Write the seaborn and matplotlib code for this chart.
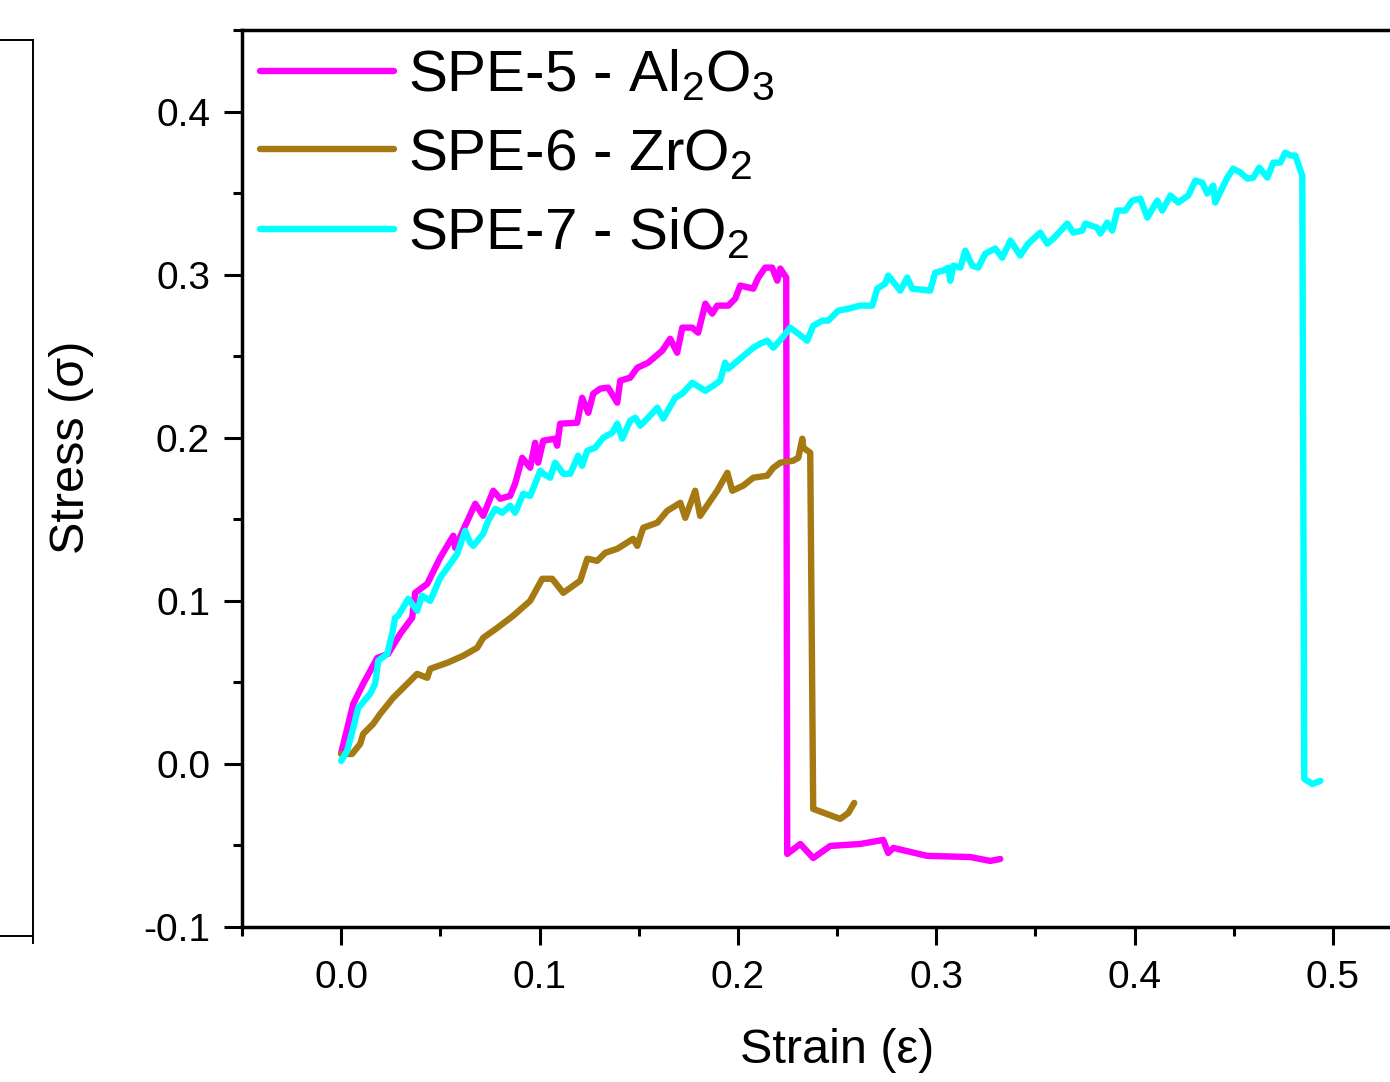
import numpy as np
import pandas as pd
import matplotlib
matplotlib.use('Agg')
import matplotlib.pyplot as plt
from matplotlib.ticker import MultipleLocator, FormatStrFormatter
import seaborn as sns

sns.set_style('ticks')
plt.rcParams['font.family'] = ['Liberation Sans', 'DejaVu Sans']
plt.rcParams['mathtext.default'] = 'regular'
plt.rcParams['axes.unicode_minus'] = False
plt.rcParams['text.color'] = 'black'
plt.rcParams['axes.labelcolor'] = 'black'
plt.rcParams['xtick.color'] = 'black'
plt.rcParams['ytick.color'] = 'black'

# SPE-5 - Al2O3
strain_al = [0.000, 0.0061, 0.0111, 0.0182, 0.0237, 0.0298, 0.0358, 0.0373, 0.0434, 0.0499,
             0.0565, 0.0575, 0.0625, 0.0676, 0.0716, 0.0767, 0.0802, 0.0852, 0.0877, 0.0913,
             0.0953, 0.0978, 0.0993, 0.1019, 0.1079, 0.1089, 0.1104, 0.1190, 0.1215, 0.1246,
             0.1271, 0.1306, 0.1346, 0.1392, 0.1407, 0.1457, 0.1493, 0.1548, 0.1619, 0.1659,
             0.1694, 0.1720, 0.1770, 0.1800, 0.1836, 0.1871, 0.1896, 0.1952, 0.1987, 0.2012,
             0.2078, 0.2103, 0.2138, 0.2173, 0.2199, 0.2214, 0.2244, 0.2249, 0.2315, 0.2380,
             0.2466, 0.2617, 0.2733, 0.2758, 0.2784, 0.2955, 0.3172, 0.3273, 0.3323]
stress_al = [0.0067, 0.0368, 0.0491, 0.0650, 0.0675, 0.0798, 0.0896, 0.1049, 0.1104, 0.1264,
             0.1399, 0.1325, 0.1460, 0.1595, 0.1521, 0.1675, 0.1626, 0.1644, 0.1718, 0.1877,
             0.1816, 0.1969, 0.1847, 0.1982, 0.1994, 0.1951, 0.2086, 0.2092, 0.2245, 0.2153,
             0.2270, 0.2301, 0.2307, 0.2215, 0.2350, 0.2368, 0.2429, 0.2460, 0.2534, 0.2607,
             0.2521, 0.2675, 0.2675, 0.2644, 0.2822, 0.2761, 0.2810, 0.2810, 0.2853, 0.2933,
             0.2914, 0.2982, 0.3043, 0.3043, 0.2963, 0.3037, 0.2982, -0.0552, -0.0491, -0.0577,
             -0.0503, -0.0491, -0.0466, -0.0546, -0.0515, -0.0564, -0.0571, -0.0595, -0.0583]

# SPE-6 - ZrO2
strain_zr = [0.000, 0.0055, 0.0096, 0.0111, 0.0161, 0.0197, 0.0262, 0.0348, 0.0383, 0.0434,
             0.0449, 0.0535, 0.0615, 0.0686, 0.0716, 0.0787, 0.0867, 0.0953, 0.1014, 0.1064,
             0.1120, 0.1205, 0.1241, 0.1291, 0.1331, 0.1392, 0.1472, 0.1493, 0.1523, 0.1594,
             0.1644, 0.1710, 0.1735, 0.1785, 0.1810, 0.1861, 0.1896, 0.1947, 0.1972, 0.2027,
             0.2078, 0.2148, 0.2179, 0.2214, 0.2279, 0.2305, 0.2325, 0.2330, 0.2365, 0.2380,
             0.2516, 0.2557, 0.2587]
stress_zr = [0.0061, 0.0061, 0.0123, 0.0184, 0.0245, 0.0307, 0.0405, 0.0509, 0.0552, 0.0528,
             0.0583, 0.0620, 0.0663, 0.0712, 0.0773, 0.0834, 0.0908, 0.1000, 0.1135, 0.1135,
             0.1049, 0.1123, 0.1258, 0.1245, 0.1294, 0.1319, 0.1380, 0.1337, 0.1448, 0.1479,
             0.1552, 0.1601, 0.1509, 0.1675, 0.1521, 0.1613, 0.1675, 0.1785, 0.1675, 0.1706,
             0.1755, 0.1767, 0.1816, 0.1847, 0.1859, 0.1877, 0.1994, 0.1939, 0.1908, -0.0276,
             -0.0337, -0.0301, -0.0239]

# SPE-7 - SiO2
strain_si = [0.0000, 0.0030, 0.0061, 0.0086, 0.0146, 0.0171, 0.0187, 0.0232, 0.0257, 0.0272,
             0.0287, 0.0338, 0.0383, 0.0408, 0.0449, 0.0499, 0.0550, 0.0585, 0.0625, 0.0651,
             0.0666, 0.0716, 0.0741, 0.0777, 0.0812, 0.0852, 0.0877, 0.0918, 0.0953, 0.1004,
             0.1019, 0.1054, 0.1079, 0.1120, 0.1155, 0.1195, 0.1215, 0.1241, 0.1281, 0.1321,
             0.1367, 0.1392, 0.1417, 0.1457, 0.1483, 0.1508, 0.1548, 0.1594, 0.1624, 0.1684,
             0.1720, 0.1770, 0.1836, 0.1876, 0.1911, 0.1936, 0.1952, 0.2012, 0.2078, 0.2113,
             0.2148, 0.2179, 0.2224, 0.2264, 0.2305, 0.2350, 0.2380, 0.2426, 0.2456, 0.2506,
             0.2557, 0.2617, 0.2678, 0.2703, 0.2743, 0.2758, 0.2819, 0.2854, 0.2879, 0.2970,
             0.2995, 0.3036, 0.3061, 0.3071, 0.3086, 0.3122, 0.3147, 0.3182, 0.3212, 0.3248,
             0.3298, 0.3333, 0.3374, 0.3424, 0.3464, 0.3525, 0.3560, 0.3591, 0.3661, 0.3691,
             0.3737, 0.3752, 0.3812, 0.3828, 0.3863, 0.3888, 0.3913, 0.3954, 0.3989, 0.4029,
             0.4065, 0.4115, 0.4140, 0.4181, 0.4221, 0.4271, 0.4307, 0.4342, 0.4367, 0.4397,
             0.4407, 0.4468, 0.4498, 0.4534, 0.4569, 0.4599, 0.4629, 0.4670, 0.4700, 0.4735,
             0.4760, 0.4786, 0.4811, 0.4846, 0.4856, 0.4897, 0.4937]
stress_si = [0.0018, 0.0080, 0.0221, 0.0344, 0.0429, 0.0491, 0.0632, 0.0675, 0.0798, 0.0896,
             0.0908, 0.1012, 0.0939, 0.1031, 0.1000, 0.1141, 0.1227, 0.1288, 0.1429, 0.1356,
             0.1337, 0.1411, 0.1491, 0.1564, 0.1540, 0.1583, 0.1540, 0.1656, 0.1644, 0.1798,
             0.1779, 0.1755, 0.1847, 0.1779, 0.1779, 0.1890, 0.1828, 0.1920, 0.1939, 0.2000,
             0.2031, 0.2086, 0.1994, 0.2104, 0.2123, 0.2074, 0.2123, 0.2184, 0.2117, 0.2245,
             0.2270, 0.2337, 0.2288, 0.2319, 0.2350, 0.2460, 0.2423, 0.2485, 0.2552, 0.2577,
             0.2595, 0.2552, 0.2613, 0.2675, 0.2638, 0.2595, 0.2687, 0.2718, 0.2718, 0.2779,
             0.2791, 0.2810, 0.2810, 0.2914, 0.2945, 0.2994, 0.2902, 0.2982, 0.2914, 0.2902,
             0.3012, 0.3025, 0.3043, 0.2963, 0.3055, 0.3043, 0.3147, 0.3055, 0.3043, 0.3129,
             0.3160, 0.3104, 0.3209, 0.3117, 0.3190, 0.3258, 0.3190, 0.3221, 0.3313, 0.3258,
             0.3270, 0.3313, 0.3288, 0.3252, 0.3319, 0.3270, 0.3393, 0.3393, 0.3454, 0.3466,
             0.3350, 0.3454, 0.3393, 0.3485, 0.3442, 0.3485, 0.3577, 0.3564, 0.3497, 0.3546,
             0.3442, 0.3595, 0.3650, 0.3626, 0.3589, 0.3595, 0.3656, 0.3595, 0.3687, 0.3687,
             0.3748, 0.3730, 0.3730, 0.3607, -0.0092, -0.0123, -0.0104]

labels = ['SPE-5 - Al$_2$O$_3$', 'SPE-6 - ZrO$_2$', 'SPE-7 - SiO$_2$']
colors = ['#FF00FF', '#A67A12', '#00FFFF']

fig = plt.figure(figsize=(13.9, 10.82), dpi=100)

# cropped neighbour panel on the far left
ax0 = fig.add_axes([-0.5, 0.135, 0.5237, 0.828])
ax0.set_xlim(0, 1)
ax0.set_xticks([1])
ax0.set_xticklabels([])
ax0.set_yticks([])
for s in ax0.spines.values():
    s.set_linewidth(1.4)
    s.set_color('black')
ax0.tick_params(axis='x', direction='out', length=6, width=1.4)

ax = fig.add_axes([242 / 1390, 155 / 1082, 1190 / 1390, 897 / 1082])

series = [(strain_al, stress_al), (strain_zr, stress_zr), (strain_si, stress_si)]
for (sx, sy), lab, col in zip(series, labels, colors):
    df = pd.DataFrame({'strain': sx, 'stress': sy})
    sns.lineplot(data=df, x='strain', y='stress', sort=False, estimator=None,
                 color=col, linewidth=4.6, label=lab, ax=ax)

ax.set_xlim(-0.05, 0.55)
ax.set_ylim(-0.1, 0.45)
ax.xaxis.set_major_locator(MultipleLocator(0.1))
ax.xaxis.set_minor_locator(MultipleLocator(0.05))
ax.yaxis.set_major_locator(MultipleLocator(0.1))
ax.yaxis.set_minor_locator(MultipleLocator(0.05))
ax.xaxis.set_major_formatter(FormatStrFormatter('%.1f'))
ax.yaxis.set_major_formatter(FormatStrFormatter('%.1f'))
ax.tick_params(which='major', direction='out', length=13, width=2.2, labelsize=28, pad=10)
ax.tick_params(which='minor', direction='out', length=6.5, width=2.2)
ax.tick_params(axis='x', which='major', pad=11)
for s in ax.spines.values():
    s.set_linewidth(2.5)
    s.set_color('black')

ax.set_xlabel('Strain (ε)', fontsize=35)
ax.set_ylabel('Stress (σ)', fontsize=35)
ax.xaxis.set_label_coords(0.5, -0.113)
ax.yaxis.set_label_coords(-0.124, 0.535)

leg = ax.legend(loc='upper left', bbox_to_anchor=(0.005, 0.992), frameon=False,
                fontsize=42, handlelength=2.3, handletextpad=0.25,
                labelspacing=0.42, borderaxespad=0, borderpad=0.2)
for line in leg.get_lines():
    line.set_linewidth(4.6)

fig.savefig('out.png', dpi=100)
